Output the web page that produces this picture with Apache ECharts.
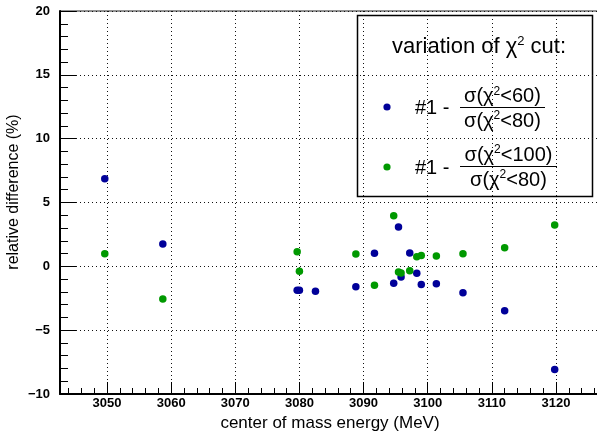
<!DOCTYPE html>
<html>
<head>
<meta charset="utf-8">
<script src="https://cdn.jsdelivr.net/npm/echarts@6/dist/echarts.min.js"></script>
<style>
  html, body { margin: 0; padding: 0; background: #fff; }
  #chart { width: 597px; height: 435px; }
</style>
</head>
<body>
<div id="chart"></div>
<script>
// center of mass energies (MeV)
var energies = [3049.65, 3058.7, 3079.65, 3080.0, 3082.5, 3088.8, 3091.7, 3094.7, 3095.45,
  3095.85, 3097.2, 3098.3, 3099.0, 3101.35, 3105.5, 3112.0, 3119.8];
// #1 - sigma(chi2<60)/sigma(chi2<80), in %
var diff60 = [6.87, 1.75, -1.88, -1.88, -1.96, -1.59, 1.02, -1.33, 3.08,
  -0.84, 1.04, -0.55, -1.43, -1.36, -2.06, -3.47, -8.09];
// #1 - sigma(chi2<100)/sigma(chi2<80), in %
var diff100 = [0.99, -2.56, 1.15, -0.39, null, 0.96, -1.49, 3.97, -0.45,
  -0.52, -0.34, 0.76, 0.84, 0.81, 0.99, 1.46, 3.24];

var xMajor = [3050, 3060, 3070, 3080, 3090, 3100, 3110, 3120];
var xMinor = [3044, 3046, 3048, 3052, 3054, 3056, 3058, 3062, 3064, 3066, 3068,
  3072, 3074, 3076, 3078, 3082, 3084, 3086, 3088, 3092, 3094, 3096, 3098,
  3102, 3104, 3106, 3108, 3112, 3114, 3116, 3118, 3122, 3124, 3126];

var BLUE = '#000099';
var GREEN = '#009900';
var FONT = 'Liberation Sans, Arial, Helvetica, sans-serif';

function pairs(ys) {
  var out = [];
  for (var i = 0; i < energies.length; i++) {
    if (ys[i] !== null) out.push([energies[i], ys[i]]);
  }
  return out;
}

var chart = echarts.init(document.getElementById('chart'), null, { renderer: 'canvas' });

var supRich = {
  s: { fontSize: 12, fontFamily: FONT, verticalAlign: 'top', lineHeight: 22 },
  n: { fontSize: 20, fontFamily: FONT, lineHeight: 22 },
  ts: { fontSize: 13, fontFamily: FONT, verticalAlign: 'top', lineHeight: 24 },
  t: { fontSize: 22, fontFamily: FONT, lineHeight: 24 }
};

function sigmaText(cut) {
  return '{n|σ(χ}{s|2}{n|<' + cut + ')}';
}

chart.setOption({
  animation: false,
  backgroundColor: '#fff',
  grid: {
    left: 60, top: 11, right: -2, bottom: 41,
    outerBoundsMode: 'none',
    show: true, borderColor: '#222', borderWidth: 1
  },
  xAxis: [
    {
      type: 'value', min: 3042.67, max: 3126.71,
      axisLine: { onZero: false, lineStyle: { color: '#000', width: 2 } },
      axisTick: { inside: true, length: 12, customValues: xMajor, lineStyle: { color: '#000' } },
      axisLabel: {
        customValues: xMajor, margin: 3, color: '#000',
        fontFamily: FONT, fontSize: 13, fontWeight: 'bold',
        formatter: function (v) { return '' + v; }
      },
      splitLine: { show: true, lineStyle: { color: '#111', type: [1, 3], width: 1 } }
    },
    {
      type: 'value', min: 3042.67, max: 3126.71, position: 'bottom',
      axisLine: { show: false, onZero: false },
      axisTick: { inside: true, length: 6, customValues: xMinor, lineStyle: { color: '#000' } },
      axisLabel: { show: false },
      splitLine: { show: false }
    }
  ],
  yAxis: {
    type: 'value', min: -10, max: 20, interval: 5,
    axisLine: { show: true, onZero: false, lineStyle: { color: '#000', width: 2 } },
    axisTick: { show: true, inside: true, length: 16, lineStyle: { color: '#000' } },
    minorTick: { show: true, splitNumber: 5, length: 8, lineStyle: { color: '#000' } },
    axisLabel: {
      margin: 10, color: '#000', fontFamily: FONT, fontSize: 13, fontWeight: 'bold',
      formatter: function (v) { return v < 0 ? '\u2212' + (-v) : '' + v; }
    },
    splitLine: { show: true, lineStyle: { color: '#111', type: [1, 3], width: 1 } }
  },
  series: [
    {
      name: 'chi2<60', type: 'scatter', symbol: 'circle', symbolSize: 7.5,
      itemStyle: { color: BLUE, opacity: 1 }, data: pairs(diff60)
    },
    {
      name: 'chi2<100', type: 'scatter', symbol: 'circle', symbolSize: 7.5,
      itemStyle: { color: GREEN, opacity: 1 }, data: pairs(diff100)
    }
  ],
  graphic: [
    // axis titles
    {
      type: 'text', x: 14, y: 192, rotation: Math.PI / 2,
      style: { text: 'relative difference (%)', font: '16px ' + FONT, fill: '#000',
        align: 'center', verticalAlign: 'middle' }
    },
    {
      type: 'text', x: 330, y: 423,
      style: { text: 'center of mass energy (MeV)', font: '17px ' + FONT, fill: '#000',
        align: 'center', verticalAlign: 'middle' }
    },
    // legend box
    {
      type: 'group', z: 100,
      children: [
        { type: 'rect', shape: { x: 357.5, y: 15.5, width: 235, height: 181 },
          style: { fill: '#fff', stroke: '#000', lineWidth: 1.5 } },
        { type: 'text', x: 479, y: 47,
          style: { text: '{t|variation of χ}{ts|2}{t| cut:}', rich: supRich,
            align: 'center', verticalAlign: 'middle', fill: '#000' } },

        { type: 'circle', shape: { cx: 387, cy: 107, r: 3.6 }, style: { fill: BLUE } },
        { type: 'text', x: 415, y: 108,
          style: { text: '#1 -', font: '20px ' + FONT, fill: '#000', verticalAlign: 'middle' } },
        { type: 'text', x: 502.5, y: 96.5,
          style: { text: sigmaText(60), rich: supRich, align: 'center', verticalAlign: 'middle', fill: '#000' } },
        { type: 'line', shape: { x1: 460, y1: 107.5, x2: 545, y2: 107.5 }, style: { stroke: '#000', lineWidth: 1 } },
        { type: 'text', x: 502.5, y: 121,
          style: { text: sigmaText(80), rich: supRich, align: 'center', verticalAlign: 'middle', fill: '#000' } },

        { type: 'circle', shape: { cx: 387, cy: 167, r: 3.6 }, style: { fill: GREEN } },
        { type: 'text', x: 415, y: 168,
          style: { text: '#1 -', font: '20px ' + FONT, fill: '#000', verticalAlign: 'middle' } },
        { type: 'text', x: 508.5, y: 155,
          style: { text: sigmaText(100), rich: supRich, align: 'center', verticalAlign: 'middle', fill: '#000' } },
        { type: 'line', shape: { x1: 460, y1: 166.5, x2: 557, y2: 166.5 }, style: { stroke: '#000', lineWidth: 1 } },
        { type: 'text', x: 508.5, y: 180,
          style: { text: sigmaText(80), rich: supRich, align: 'center', verticalAlign: 'middle', fill: '#000' } }
      ]
    }
  ]
});
</script>
</body>
</html>
